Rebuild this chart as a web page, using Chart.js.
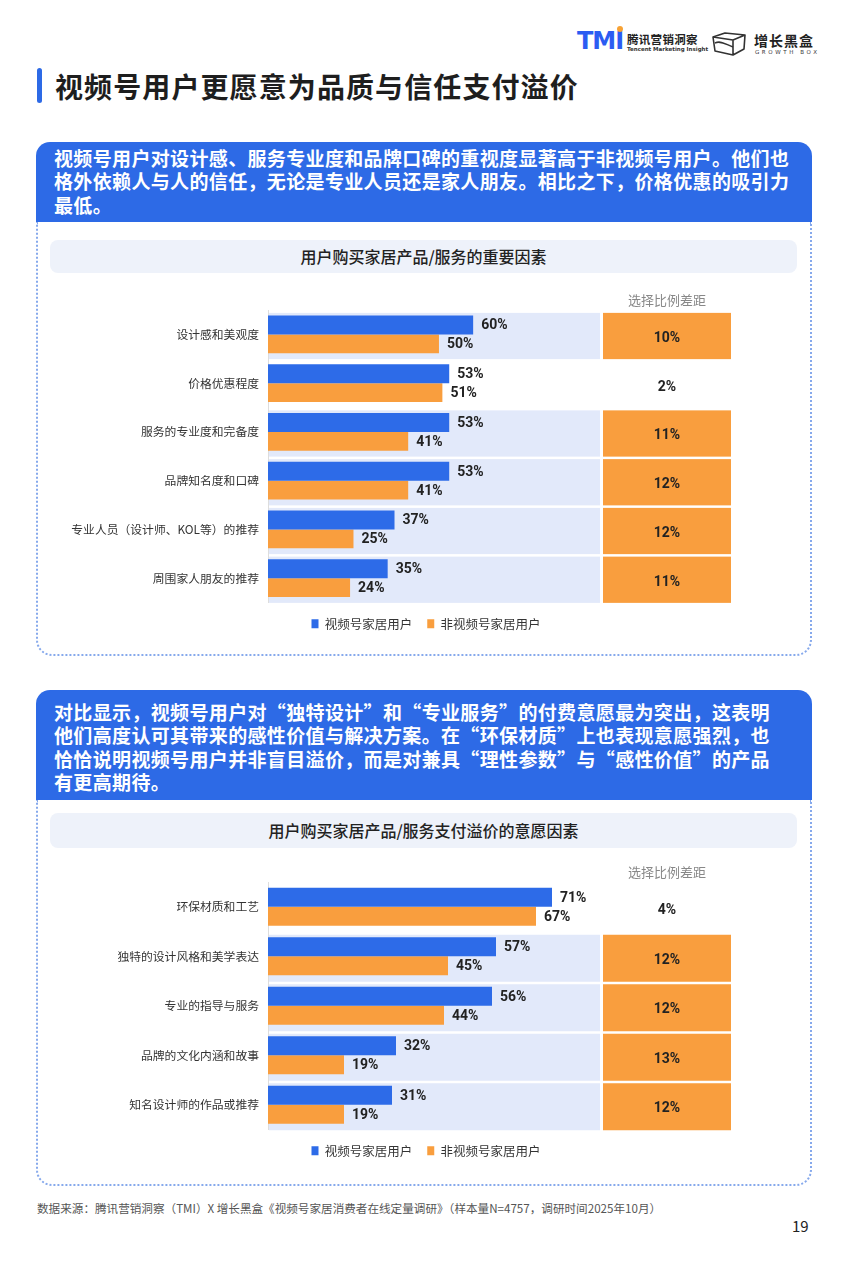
<!DOCTYPE html>
<html lang="zh-CN">
<head>
<meta charset="utf-8">
<script src="https://cdn.jsdelivr.net/npm/chart.js"></script>
<style>
  body { margin: 0; width: 848px; height: 1266px; position: relative; background: #fff; overflow: hidden;
         font-family: "Noto Sans CJK SC", "Noto Sans", sans-serif; color: #222; }
  .abs { position: absolute; }
  .card { position: absolute; left: 36px; width: 776px; }
  .head { background: #2d6ae6; border-radius: 14px 14px 0 0; color: #fff; font-weight: 700; font-size: 19px;
          line-height: 23.5px; padding-left: 18px; box-sizing: border-box; letter-spacing: 0.35px; }
  .body { border: 2px dotted #86a9ec; border-top: none; border-radius: 0 0 16px 16px; box-sizing: border-box; }
  .ctitle { position: absolute; left: 50px; width: 747px; background: #eef2fa; border-radius: 8px;
            text-align: center; font-size: 16px; font-weight: 500; color: #222; }
</style>
</head>
<body>

<!-- logos -->
<div class="abs" style="left:577px;top:27px;font-family:'DejaVu Sans';font-weight:900;font-size:24px;color:#2b5cf2;letter-spacing:-1px;">TMI</div>
<div class="abs" style="left:617px;top:26px;width:6px;height:6px;border-radius:3px;background:#f7a234;"></div>
<div class="abs" style="left:627px;top:31px;font-size:11.5px;font-weight:700;color:#222;letter-spacing:0.3px;">腾讯营销洞察</div>
<div class="abs" style="left:627px;top:46px;font-size:5.5px;font-weight:700;color:#333;font-family:'DejaVu Sans';">Tencent Marketing Insight</div>
<svg class="abs" style="left:711px;top:31px" width="36" height="26" viewBox="0 0 36 26">
  <path d="M2 6 L14 2 L34 4 L22 9 Z M2 6 L4 20 L22 24 L22 9 M22 24 L33 18 L34 4" fill="none" stroke="#333" stroke-width="1.6" stroke-linejoin="round"/>
  <path d="M4 12 C10 9 16 14 22 16" fill="none" stroke="#333" stroke-width="1.4"/>
</svg>
<div class="abs" style="left:754px;top:30px;font-size:14px;font-weight:700;color:#222;letter-spacing:1px;">增长黑盒</div>
<div class="abs" style="left:755px;top:49px;font-size:5.5px;color:#333;letter-spacing:2.6px;font-family:'DejaVu Sans';">GROWTH BOX</div>

<!-- page title -->
<div class="abs" style="left:37px;top:68px;width:5px;height:35px;border-radius:3px;background:#2d6ae6;"></div>
<div class="abs" style="left:55px;top:66px;font-size:28px;font-weight:700;color:#1e1e1e;letter-spacing:1.1px;line-height:40px;">视频号用户更愿意为品质与信任支付溢价</div>

<!-- card 1 -->
<div class="card" style="top:142px;">
  <div class="head" style="height:80px;padding-top:3.5px;">视频号用户对设计感、服务专业度和品牌口碑的重视度显著高于非视频号用户。他们也<br>格外依赖人与人的信任，无论是专业人员还是家人朋友。相比之下，价格优惠的吸引力<br>最低。</div>
  <div class="body" style="height:434px;"></div>
</div>
<div class="ctitle" style="top:240px;height:33px;line-height:33px;">用户购买家居产品/服务的重要因素</div>

<!-- card 2 -->
<div class="card" style="top:690px;">
  <div class="head" style="height:110px;padding-top:9.5px;font-feature-settings:'fwid';">对比显示，视频号用户对“独特设计”和“专业服务”的付费意愿最为突出，这表明<br>他们高度认可其带来的感性价值与解决方案。在“环保材质”上也表现意愿强烈，也<br>恰恰说明视频号用户并非盲目溢价，而是对兼具“理性参数”与“感性价值”的产品<br>有更高期待。</div>
  <div class="body" style="height:386px;"></div>
</div>
<div class="ctitle" style="top:813px;height:35px;line-height:35px;">用户购买家居产品/服务支付溢价的意愿因素</div>

<div class="abs" style="left:40px;top:285px;"><canvas id="chart1" width="772" height="355" style="width:772px;height:355px"></canvas></div>
<div class="abs" style="left:40px;top:860px;"><canvas id="chart2" width="772" height="307" style="width:772px;height:307px"></canvas></div>

<!-- footer -->
<div class="abs" style="left:37px;top:1200px;font-size:11.6px;color:#555;">数据来源：腾讯营销洞察（TMI）X 增长黑盒《视频号家居消费者在线定量调研》（样本量N=4757，调研时间2025年10月）</div>
<div class="abs" style="left:792px;top:1215px;font-size:15px;color:#222;">19</div>

<script>
// chart 1: 用户购买家居产品/服务的重要因素
const factors1 = ['设计感和美观度', '价格优惠程度', '服务的专业度和完备度', '品牌知名度和口碑', '专业人员（设计师、KOL等）的推荐', '周围家人朋友的推荐'];
const channelUsers1 = [60, 53, 53, 53, 37, 35];
const otherUsers1 = [50, 51, 41, 41, 25, 24];
const gaps1 = [10, 2, 11, 12, 12, 11];

// chart 2: 用户购买家居产品/服务支付溢价的意愿因素
const factors2 = ['环保材质和工艺', '独特的设计风格和美学表达', '专业的指导与服务', '品牌的文化内涵和故事', '知名设计师的作品或推荐'];
const channelUsers2 = [71, 57, 56, 32, 31];
const otherUsers2 = [67, 45, 44, 19, 19];
const gaps2 = [4, 12, 12, 13, 12];

const seriesNames = ['视频号家居用户', '非视频号家居用户'];
const gapHeader = '选择比例差距';

const BLUE = '#2d6be8';
const ORANGE = '#f99e3e';
const BAND = '#e2e9fa';
const CJK = '"Noto Sans CJK SC", sans-serif';

// band behind highlighted rows, the gap column and the value labels
const gapColumn = {
  id: 'gapColumn',
  beforeDatasetsDraw(chart, args, opts) {
    const { ctx, chartArea: a, scales: { y } } = chart;
    const pitch = y.getPixelForValue(1) - y.getPixelForValue(0);
    ctx.save();
    opts.gaps.forEach((g, i) => {
      if (g < 10) return;
      const c = y.getPixelForValue(i);
      ctx.fillStyle = BAND;
      ctx.fillRect(a.left + 1, c - 21.5, 331, pitch - 2.5);
      ctx.fillStyle = ORANGE;
      ctx.fillRect(a.left + 335, c - 21.5, 128, pitch - 2.5);
    });
    ctx.restore();
  },
  afterDatasetsDraw(chart, args, opts) {
    const { ctx, chartArea: a, scales: { y } } = chart;
    const mid = a.left + 399;
    ctx.save();
    ctx.fillStyle = '#222';
    ctx.textBaseline = 'middle';
    ctx.font = 'bold 14px Roboto, ' + CJK;
    ctx.textAlign = 'left';
    chart.data.datasets.forEach((ds, d) => {
      chart.getDatasetMeta(d).data.forEach((bar, i) => {
        ctx.fillText(ds.data[i] + '%', bar.x + 8, bar.y + 1);
      });
    });
    ctx.textAlign = 'center';
    opts.gaps.forEach((g, i) => {
      ctx.fillText(g + '%', mid, y.getPixelForValue(i) + 4);
    });
    ctx.font = '13px ' + CJK;
    ctx.fillStyle = '#888';
    ctx.fillText(gapHeader, mid, a.top - 10);
    ctx.restore();
  }
};

function makeChart(id, labels, channel, other, gaps, xMax, padTop) {
  return new Chart(document.getElementById(id), {
    type: 'bar',
    data: {
      labels: labels,
      datasets: [
        { label: seriesNames[0], data: channel, backgroundColor: BLUE, borderWidth: 0 },
        { label: seriesNames[1], data: other, backgroundColor: ORANGE, borderWidth: 0 }
      ]
    },
    options: {
      indexAxis: 'y',
      responsive: false,
      animation: false,
      categoryPercentage: 0.77,
      barPercentage: 1,
      layout: { padding: { top: padTop, left: 0, right: 0, bottom: 0 } },
      scales: {
        x: { display: false, min: 0, max: xMax },
        y: {
          grid: { display: false },
          border: { display: true, color: '#dddddd', width: 1 },
          ticks: { color: '#333', padding: 1, font: { family: CJK, size: 11.8 } },
          afterFit(scale) { scale.width = 228; }
        }
      },
      plugins: {
        legend: {
          position: 'bottom',
          labels: { boxWidth: 7, boxHeight: 9, padding: 15, color: '#333', font: { family: CJK, size: 12.5 } }
        },
        tooltip: { enabled: false },
        gapColumn: { gaps: gaps }
      }
    },
    plugins: [gapColumn]
  });
}

makeChart('chart1', factors1, channelUsers1, otherUsers1, gaps1, 159.1, 25);
makeChart('chart2', factors2, channelUsers2, otherUsers2, gaps2, 136, 22);
</script>
</body>
</html>
